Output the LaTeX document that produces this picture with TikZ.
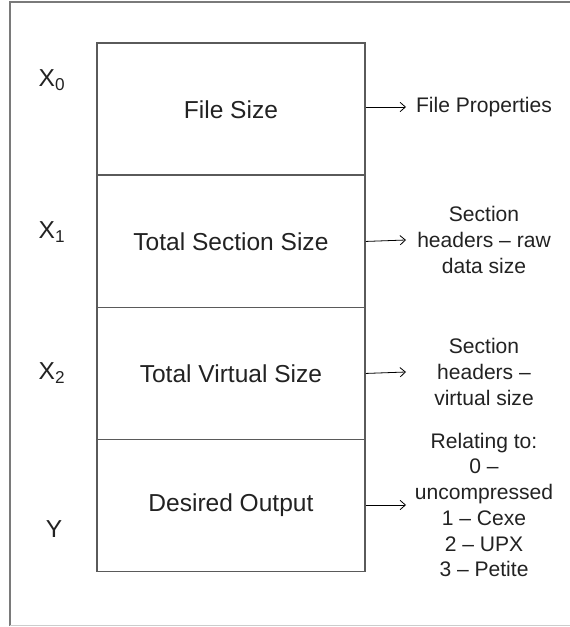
\documentclass[tikz,border=0pt]{standalone}
\usepackage{fontspec}
\setmainfont{Liberation Sans}
\usetikzlibrary{arrows.meta}
\definecolor{boxline}{HTML}{5A5A5A}
\definecolor{frameline}{HTML}{7A7A7A}
\definecolor{inktext}{HTML}{222222}
\begin{document}
\begin{tikzpicture}[x=0.75pt,y=-0.75pt,
  field/.style={draw=boxline,line width=1.4pt,minimum width=201pt,minimum height=99pt,
    inner sep=0pt,anchor=north west,text=inktext,font=\fontsize{18.4}{22}\selectfont},
  varlabel/.style={text=inktext,font=\fontsize{18.4}{22}\selectfont,inner sep=0pt},
  note/.style={text=inktext,font=\fontsize{15.8}{19.3}\selectfont,align=center,inner sep=0pt},
  feed/.style={draw=black,line width=0.6pt,-{Straight Barb[length=4pt,width=7pt,line width=0.6pt]}}]
  \useasboundingbox (0,0) rectangle (569,627);
  % outer frame
  \draw[frameline,line width=1.5pt] (575,2.5) -- (9.5,2.5) -- (9.5,625.5);
  \draw[black!20,line width=1.2pt] (9.5,625.5) -- (575,625.5);
  % stacked fields
  \node[field] (r0) at (96,42.5) {File Size};
  \node[field] (r1) at (96,174.5) {Total Section Size};
  \node[field] (r2) at (96,306.5) {Total Virtual Size};
  \node[field] (r3) at (96,438.5) {Desired Output};
  % variable names
  \node[varlabel] (v0) at (52,80) {X\textsubscript{0}};
  \node[varlabel] (v1) at (52,232) {X\textsubscript{1}};
  \node[varlabel] (v2) at (52,373) {X\textsubscript{2}};
  \node[varlabel] (v3) at (54,529) {Y};
  % descriptions
  \node[note] (d0) at (484,107) {File Properties};
  \node[note] (d1) at (484,240) {Section\\headers -- raw\\data size};
  \node[note] (d2) at (484,372) {Section\\headers --\\virtual size};
  \node[note] (d3) at (484,505) {Relating to:\\0 --\\uncompressed\\1 -- Cexe\\2 -- UPX\\3 -- Petite};
  % arrow tips
  \coordinate (t0) at (406,107);
  \coordinate (t1) at (406,240);
  \coordinate (t2) at (406,372);
  \coordinate (t3) at (406,505);
  \draw[feed] (r0.east |- t0) -- (t0);
  \draw[feed] (r1.east) -- (t1);
  \draw[feed] (r2.east) -- (t2);
  \draw[feed] (r3.east |- t3) -- (t3);
\end{tikzpicture}
\end{document}
